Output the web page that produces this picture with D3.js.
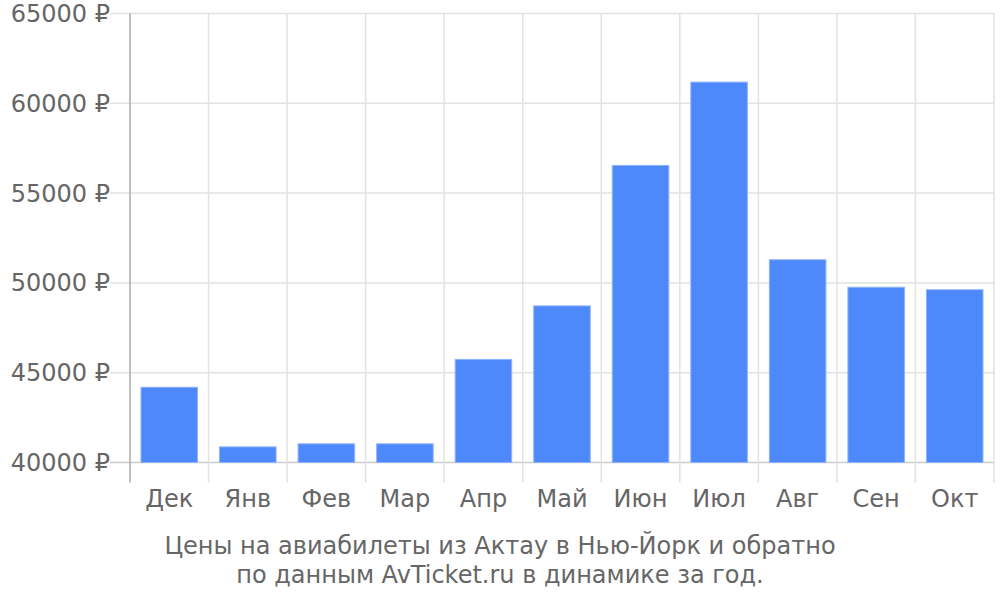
<!DOCTYPE html>
<html>
<head>
<meta charset="utf-8">
<script src="https://cdn.jsdelivr.net/npm/d3@7"></script>
<style>
  body { margin: 0; background: #fff; }
  svg { display: block; font-family: "DejaVu Sans", sans-serif; }
</style>
</head>
<body>
<div id="chart"></div>
<script>
// Monthly prices (RUB)
const months = ['Дек', 'Янв', 'Фев', 'Мар', 'Апр', 'Май', 'Июн', 'Июл', 'Авг', 'Сен', 'Окт'];
const prices = [44190, 40870, 41040, 41040, 45740, 48720, 56540, 61180, 51290, 49760, 49620];
const yTicks = [40000, 45000, 50000, 55000, 60000, 65000];
const titleLines = [
    'Цены на авиабилеты из Актау в Нью-Йорк и обратно',
    'по данным AvTicket.ru в динамике за год.'
];

const data = months.map((m, i) => ({ month: m, price: prices[i] }));

const width = 1000, height = 600;
const margin = { top: 13.5, right: 6, bottom: 137.5, left: 130 };
const innerW = width - margin.left - margin.right;
const innerH = height - margin.top - margin.bottom;

const svg = d3.select('#chart')
    .append('svg')
    .attr('width', width)
    .attr('height', height);

const g = svg.append('g')
    .attr('transform', `translate(${margin.left},${margin.top})`);

const x = d3.scaleBand()
    .domain(months)
    .range([0, innerW])
    .paddingInner(0.28)
    .paddingOuter(0.14);

const y = d3.scaleLinear()
    .domain([40000, 65000])
    .range([innerH, 0]);

// horizontal grid lines
g.append('g')
    .selectAll('line')
    .data(yTicks)
    .enter()
    .append('line')
    .attr('x1', -20)
    .attr('x2', innerW)
    .attr('y1', d => y(d))
    .attr('y2', d => y(d))
    .attr('stroke', d => d === 40000 ? '#cccccc' : '#e2e2e2')
    .attr('stroke-width', 1.5);

// vertical grid lines at band boundaries
const bounds = months.map(m => x(m) - x.step() * x.paddingInner() / 2);
bounds.push(innerW);
g.append('g')
    .selectAll('line')
    .data(bounds)
    .enter()
    .append('line')
    .attr('x1', d => d)
    .attr('x2', d => d)
    .attr('y1', 0)
    .attr('y2', innerH + 20)
    .attr('stroke', (d, i) => i === 0 ? '#aaaaaa' : '#e2e2e2')
    .attr('stroke-width', 1.5);

// bars
g.append('g')
    .selectAll('rect')
    .data(data)
    .enter()
    .append('rect')
    .attr('x', d => x(d.month))
    .attr('y', d => y(d.price))
    .attr('width', x.bandwidth())
    .attr('height', d => innerH - y(d.price))
    .attr('fill', '#4d89fa')
    .attr('stroke', '#8fb3fb')
    .attr('stroke-width', 1);

// y labels
g.append('g')
    .selectAll('text')
    .data(yTicks)
    .enter()
    .append('text')
    .attr('x', -20)
    .attr('y', d => y(d))
    .attr('dy', '0.35em')
    .attr('text-anchor', 'end')
    .attr('fill', '#666')
    .style('font-size', '24px')
    .text(d => d + ' ₽');

// x labels
g.append('g')
    .selectAll('text')
    .data(months)
    .enter()
    .append('text')
    .attr('x', d => x(d) + x.bandwidth() / 2)
    .attr('y', innerH + 44)
    .attr('text-anchor', 'middle')
    .attr('fill', '#666')
    .style('font-size', '24px')
    .text(d => d);

// title below chart
svg.append('g')
    .selectAll('text')
    .data(titleLines)
    .enter()
    .append('text')
    .attr('x', 500)
    .attr('y', (d, i) => 554 + i * 29)
    .attr('text-anchor', 'middle')
    .attr('fill', '#666')
    .style('font-size', '24px')
    .text(d => d);
</script>
</body>
</html>
